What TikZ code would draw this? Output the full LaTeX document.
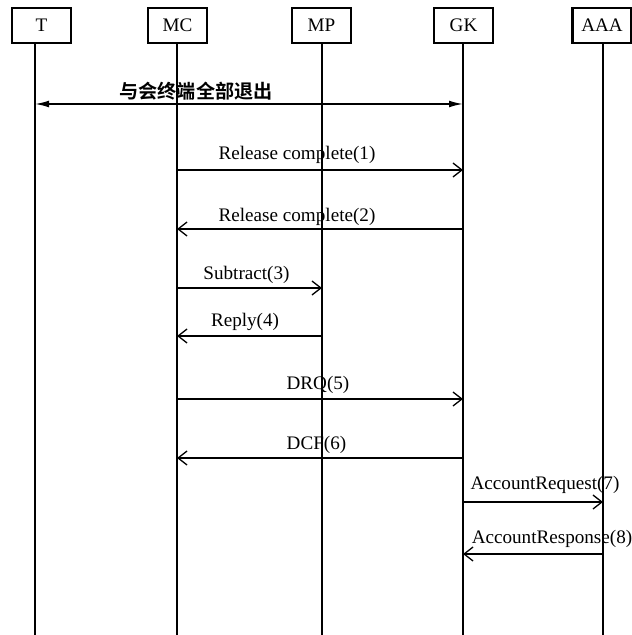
\documentclass[tikz,border=0pt]{standalone}
\usepackage{fontspec}
\setmainfont{Liberation Serif}
\newfontfamily\cjk{Noto Sans CJK SC}[UprightFont=* Bold]
\usetikzlibrary{arrows.meta}
\tikzset{
  actor/.style={draw, line width=1.4bp, minimum width=29.5bp, minimum height=17.5bp,
    inner sep=0pt, font=\fontsize{9.6}{11}\selectfont},
  life/.style={line width=1.4bp},
  msg/.style={line width=0.65bp, -{Straight Barb[length=4.5bp,width=7bp,line width=0.65bp]}},
  both/.style={line width=0.8bp, {Latex[length=7bp,width=3.4bp]}-{Latex[length=7bp,width=3.4bp]}},
  lbl/.style={font=\fontsize{9.6}{11}\selectfont, inner sep=0pt, anchor=base},
  cjklbl/.style={font=\cjk\fontsize{9.6}{11}\selectfont, inner sep=0pt, anchor=base}
}
\begin{document}
\begin{tikzpicture}[x=0.5bp,y=-0.5bp]
\useasboundingbox (0,0) rectangle (632,635);
% actors
\node[actor] (T)   at (41.5,25.5) {T};
\node[actor] (MC)  at (177.5,25.5) {MC};
\node[actor] (MP)  at (321.5,25.5) {MP};
\node[actor] (GK)  at (463.5,25.5) {GK};
\node[actor] (AAA) at (602,25.5) {AAA};
% lifeline ends
\coordinate (Ttop) at (35,43);   \coordinate (Tbot) at (35,635);
\coordinate (MCtop) at (177,43); \coordinate (MCbot) at (177,635);
\coordinate (MPtop) at (322,43); \coordinate (MPbot) at (322,635);
\coordinate (GKtop) at (463,43); \coordinate (GKbot) at (463,635);
\coordinate (AAAtop) at (603,43); \coordinate (AAAbot) at (603,635);
\draw[life] (Ttop) -- (Tbot);
\draw[life] (MCtop) -- (MCbot);
\draw[life] (MPtop) -- (MPbot);
\draw[life] (GKtop) -- (GKbot);
\draw[life] (AAAtop) -- (AAAbot);
% message points
\coordinate (t0) at (35,104);   \coordinate (g0) at (463,104);
\coordinate (m1) at (177,170);  \coordinate (g1) at (463,170);
\coordinate (m2) at (177,229);  \coordinate (g2) at (463,229);
\coordinate (m3) at (177,288);  \coordinate (p3) at (322,288);
\coordinate (m4) at (177,336);  \coordinate (p4) at (322,336);
\coordinate (m5) at (177,399);  \coordinate (g5) at (463,399);
\coordinate (m6) at (177,458);  \coordinate (g6) at (463,458);
\coordinate (g7) at (463,502);  \coordinate (a7) at (603,502);
\coordinate (g8) at (463,554);  \coordinate (a8) at (603,554);
% messages
\draw[both] (t0) -- (g0);
\draw[msg] (m1) -- (g1);
\draw[msg] (g2) -- (m2);
\draw[msg] (m3) -- (p3);
\draw[msg] (p4) -- (m4);
\draw[msg] (m5) -- (g5);
\draw[msg] (g6) -- (m6);
\draw[msg] (g7) -- (a7);
\draw[msg] (a8) -- (g8);
% labels
\node[cjklbl] (l0) at (196,99) {与会终端全部退出};
\node[lbl] (l1) at (297,160) {Release complete(1)};
\node[lbl] (l2) at (297,222) {Release complete(2)};
\node[lbl] (l3) at (246.5,279) {Subtract(3)};
\node[lbl] (l4) at (245,326) {Reply(4)};
\node[lbl] (l5) at (318,389) {DRQ(5)};
\node[lbl] (l6) at (316.5,449) {DCF(6)};
\node[lbl] (l7) at (545,489) {AccountRequest(7)};
\node[lbl] (l8) at (552,543) {AccountResponse(8)};
\end{tikzpicture}
\end{document}
